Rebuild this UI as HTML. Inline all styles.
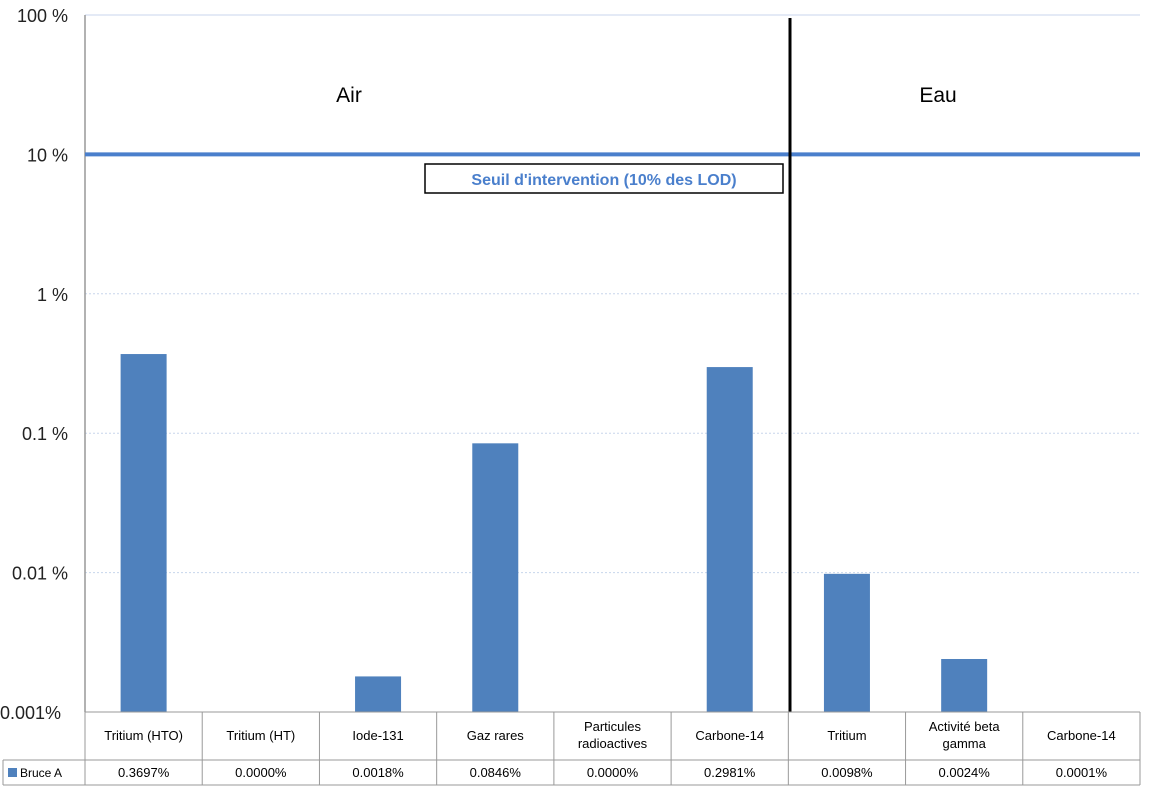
<!DOCTYPE html>
<html><head><meta charset="utf-8"><style>
body{margin:0;background:#fff;font-family:"Liberation Sans",sans-serif}
</style></head><body>
<svg id="c" width="1150" height="799" xmlns="http://www.w3.org/2000/svg" font-family="Liberation Sans, sans-serif"></svg>
<script>
const categories=["Tritium (HTO)","Tritium (HT)","Iode-131","Gaz rares","Particules|radioactives","Carbone-14","Tritium","Activité beta|gamma","Carbone-14"];
const values=[0.3697,0,0.0018,0.0846,0,0.2981,0.0098,0.0024,0.0001];
const valueLabels=["0.3697%","0.0000%","0.0018%","0.0846%","0.0000%","0.2981%","0.0098%","0.0024%","0.0001%"];
const tickValues=[100,10,1,0.1,0.01,0.001];
const tickLabels=["100 %","10 %","1 %","0.1 %","0.01 %","0.001%"];
const threshold=10;
const svg=document.getElementById('c');
const NS="http://www.w3.org/2000/svg";
const L=85,R=1140,T=15,B=712;
const y=v=>B-(Math.log10(v)+3)*(B-T)/5;
const bw=(R-L)/categories.length;
const x=i=>L+i*bw;
function el(t,a,txt){const e=document.createElementNS(NS,t);for(const k in a)e.setAttribute(k,a[k]);if(txt!=null)e.textContent=txt;svg.appendChild(e);return e;}
tickValues.forEach((v,i)=>{
 const g=el('line',{x1:L,x2:R,y1:y(v),y2:y(v),stroke:'#c8d6ec','stroke-width':1,'stroke-dasharray':i==0?'':'2,2'});
 
 
 const t=el('text',{x:i==5?0:68,y:y(v)+7,'font-size':18,'text-anchor':i==5?'start':'end',fill:'#222'},tickLabels[i]);
 
 
});
const ax=el('line',{x1:L,x2:L,y1:T,y2:B,stroke:'#999','stroke-width':1.5});


values.forEach((v,i)=>{
 if(v<=0.001)return;
 const r=el('rect',{x:x(i)+bw/2-23,y:y(v),width:46,height:B-y(v),fill:'#4f81bd'});
 
 
});
const th=el('line',{x1:L,x2:R,y1:y(threshold),y2:y(threshold),stroke:'#4a7fcc','stroke-width':4});


const sep=el('line',{x1:790,x2:790,y1:18,y2:B,stroke:'#000','stroke-width':3});


const ta=el('text',{x:349,y:102,'font-size':21,'text-anchor':'middle'},'Air');


const te=el('text',{x:938,y:102,'font-size':21,'text-anchor':'middle'},'Eau');


const bx=el('rect',{x:425,y:164,width:358,height:29,fill:'#fff',stroke:'#000','stroke-width':1.5});


const bt=el('text',{x:604,y:185,'font-size':16,'font-weight':'bold','text-anchor':'middle',fill:'#4a7fcc'},"Seuil d'intervention (10% des LOD)");


// table
const r1=712,r2=760,r3=785;
[[L,r1,R,r1],[3,r2,R,r2],[3,r3,R,r3],[3,r2,3,r3],[R,r1,R,r3]].forEach(a=>{
 const l=el('line',{x1:a[0],y1:a[1],x2:a[2],y2:a[3],stroke:'#999'});
 
 
});
categories.forEach((c,i)=>{
 const l=el('line',{x1:x(i),x2:x(i),y1:r1,y2:r3,stroke:'#999'});
 
 
 const parts=c.split('|');
 parts.forEach((p,j)=>{
  const t=el('text',{x:x(i)+bw/2,y:(parts.length==1?740:731+j*17),'font-size':13,'text-anchor':'middle'},p);
  
  
 });
 const vt=el('text',{x:x(i)+bw/2,y:777,'font-size':13,'text-anchor':'middle'},valueLabels[i]);
 
 
});
const lk=el('rect',{x:8,y:768,width:9,height:9,fill:'#4f81bd'});


const lt=el('text',{x:20,y:777,'font-size':12},'Bruce A');


</script>
</body></html>
